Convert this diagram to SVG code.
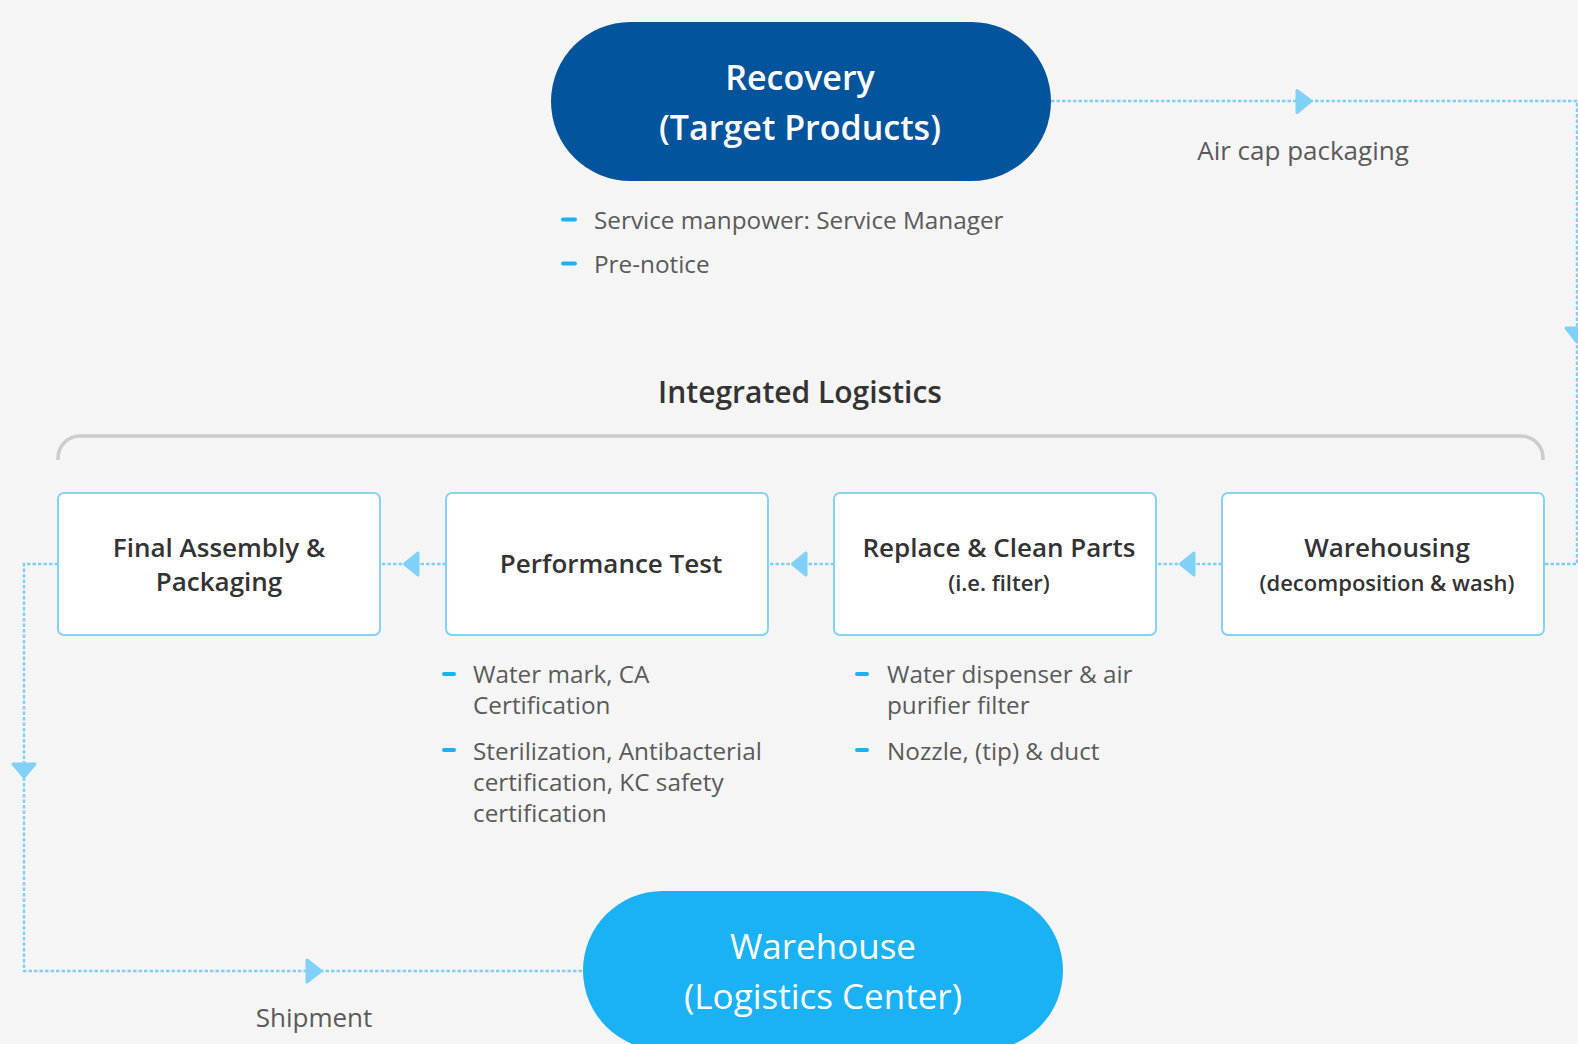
<svg xmlns="http://www.w3.org/2000/svg" width="1578" height="1044" viewBox="0 0 1578 1044">
  <defs>
    <style>
      .bg { fill: #f5f5f5; }
      .flow { fill: none; stroke: #7ecef7; stroke-width: 2.4; stroke-dasharray: 3.5 2; }
      .head { fill: #80d0f8; stroke: #80d0f8; stroke-width: 3; stroke-linejoin: round; }
      .box { fill: #ffffff; stroke: #86d2f5; stroke-width: 2; }
      .bracket { fill: none; stroke: #cccccc; stroke-width: 3.5; }
      .pill-dark { fill: #02549c; }
      .pill-light { fill: #1ab2f5; }
      .pill-text { font-family: "Open Sans", "Noto Sans", sans-serif; fill: #ffffff; text-anchor: middle; }
      .title { font-family: "Open Sans", "Noto Sans", sans-serif; font-size: 26px; font-weight: 600; fill: #333333; text-anchor: middle; }
      .sub { font-family: "Open Sans", "Noto Sans", sans-serif; font-size: 22px; font-weight: 600; fill: #333333; text-anchor: middle; }
      .heading { font-family: "Open Sans", "Noto Sans", sans-serif; font-size: 30px; font-weight: 600; fill: #333333; text-anchor: middle; }
      .label { font-family: "Open Sans", "Noto Sans", sans-serif; font-size: 26px; fill: #5a5a5a; text-anchor: middle; }
      .note { font-family: "Open Sans", "Noto Sans", sans-serif; font-size: 24.3px; fill: #5a5a5a; }
      .dash { fill: #1ab2f5; }
    </style>
  </defs>

  <rect class="bg" x="0" y="0" width="1578" height="1044"/>

  <!-- bracket over the integrated logistics row -->
  <path class="bracket" d="M58,460 V458 a22,22 0 0 1 22,-22 H1521 a22,22 0 0 1 22,22 V460"/>
  <text class="heading" x="800" y="403">Integrated Logistics</text>

  <!-- connectors -->
  <g id="connectors">
    <path class="flow" d="M1051,101 H1577 V564 H1544"/>
    <path class="head" d="M1297,90.5 L1311,101 L1297,112.5 Z"/>
    <path class="head" d="M1566,328 L1577,342 L1588,328 Z"/>

    <path class="flow" d="M1222,564 H1156"/>
    <path class="head" d="M1180.5,564 L1194,553 L1194,575 Z"/>

    <path class="flow" d="M834,564 H768"/>
    <path class="head" d="M792.5,564 L806,553 L806,575 Z"/>

    <path class="flow" d="M446,564 H380"/>
    <path class="head" d="M404.5,564 L418,553 L418,575 Z"/>

    <path class="flow" d="M58,564 H24 V971 H583"/>
    <path class="head" d="M13,764 L24,777 L35,764 Z"/>
    <path class="head" d="M307,960 L321,971 L307,982 Z"/>
  </g>

  <!-- recovery -->
  <g id="recovery">
    <rect class="pill-dark" x="551" y="22" width="500" height="159" rx="79.5"/>
    <text class="pill-text" x="800" y="90" font-size="34" font-weight="600">Recovery</text>
    <text class="pill-text" x="800" y="140" font-size="34" font-weight="600">(Target Products)</text>
  </g>
  <text class="label" x="1303" y="160">Air cap packaging</text>

  <g id="recovery-notes">
    <rect class="dash" x="561" y="217.5" width="16" height="4" rx="2"/>
    <text class="note" x="594" y="229">Service manpower: Service Manager</text>
    <rect class="dash" x="561" y="261.5" width="16" height="4" rx="2"/>
    <text class="note" x="594" y="273">Pre-notice</text>
  </g>

  <!-- process boxes -->
  <g id="final-assembly">
    <rect class="box" x="58" y="493" width="322" height="142" rx="6"/>
    <text class="title" x="219" y="557">Final Assembly &amp;</text>
    <text class="title" x="219" y="591">Packaging</text>
  </g>

  <g id="performance-test">
    <rect class="box" x="446" y="493" width="322" height="142" rx="6"/>
    <text class="title" x="611" y="573">Performance Test</text>
  </g>

  <g id="replace-clean">
    <rect class="box" x="834" y="493" width="322" height="142" rx="6"/>
    <text class="title" x="999" y="557">Replace &amp; Clean Parts</text>
    <text class="sub" x="999" y="591">(i.e. filter)</text>
  </g>

  <g id="warehousing">
    <rect class="box" x="1222" y="493" width="322" height="142" rx="6"/>
    <text class="title" x="1387" y="557">Warehousing</text>
    <text class="sub" x="1387" y="591">(decomposition &amp; wash)</text>
  </g>

  <g id="performance-notes">
    <rect class="dash" x="442" y="672" width="14" height="4" rx="2"/>
    <text class="note" x="473" y="683">Water mark, CA</text>
    <text class="note" x="473" y="714">Certification</text>
    <rect class="dash" x="442" y="748" width="14" height="4" rx="2"/>
    <text class="note" x="473" y="760">Sterilization, Antibacterial</text>
    <text class="note" x="473" y="791">certification, KC safety</text>
    <text class="note" x="473" y="822">certification</text>
  </g>

  <g id="replace-notes">
    <rect class="dash" x="855" y="672" width="14" height="4" rx="2"/>
    <text class="note" x="887" y="683">Water dispenser &amp; air</text>
    <text class="note" x="887" y="714">purifier filter</text>
    <rect class="dash" x="855" y="748" width="14" height="4" rx="2"/>
    <text class="note" x="887" y="760">Nozzle, (tip) &amp; duct</text>
  </g>

  <!-- warehouse -->
  <g id="warehouse">
    <rect class="pill-light" x="583" y="891" width="480" height="159" rx="79.5"/>
    <text class="pill-text" x="823" y="959" font-size="35" font-weight="500">Warehouse</text>
    <text class="pill-text" x="823" y="1009" font-size="35" font-weight="500">(Logistics Center)</text>
  </g>
  <text class="label" x="314" y="1027">Shipment</text>
</svg>
